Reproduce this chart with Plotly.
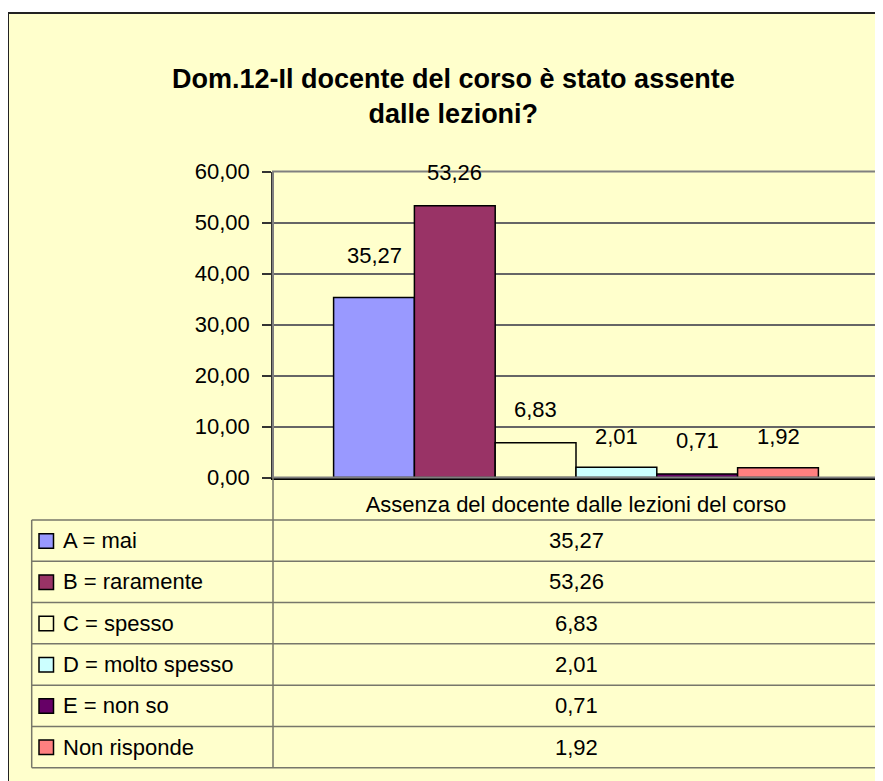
import plotly.graph_objects as go

# ---- data ----
categories = ["Assenza del docente dalle lezioni del corso"]
series_names = ["A = mai", "B = raramente", "C = spesso", "D = molto spesso", "E = non so", "Non risponde"]
values = [35.27, 53.26, 6.83, 2.01, 0.71, 1.92]
y_ticks = [0, 10, 20, 30, 40, 50, 60]
title_text = "Dom.12-Il docente del corso è stato assente<br>dalle lezioni?"

# ---- style ----
colors = ["#9999FF", "#993366", "#FFFFCC", "#CCFFFF", "#660066", "#FF8080"]
label_shift = [42, 33, 33, 31, 33, 31]
W, H = 883, 781
OFF = 8  # page body margin
FONT = "Arial, Liberation Sans, sans-serif"
FS = 22

def px(x):
    return (x - OFF) / W

def py(y):
    return 1 - (y - OFF) / H

def fmt(v):
    return f"{v:.2f}".replace(".", ",")

plot_l, plot_r, plot_t, plot_b = 273, 879, 171.5, 477.5

fig = go.Figure()
n = len(series_names)
for name, val, col in zip(series_names, values, colors):
    fig.add_trace(go.Bar(
        x=categories, y=[val], name=name,
        marker=dict(color=col, line=dict(color="black", width=1.5)),
        showlegend=False, hoverinfo="skip",
    ))

shapes = []
annotations = []

# outer box
shapes.append(dict(type="rect", xref="paper", yref="paper", layer="below",
                   x0=px(8), x1=px(900), y0=py(13), y1=py(810),
                   fillcolor="#FFFFCC", line=dict(color="#222222", width=2)))
# plot border
shapes.append(dict(type="rect", xref="paper", yref="paper",
                   x0=px(plot_l), x1=px(plot_r), y0=py(plot_b), y1=py(plot_t),
                   line=dict(color="#808080", width=2)))

# data labels above bars
gw = 0.8
bw = gw / n
for i, (v, s) in enumerate(zip(values, label_shift)):
    annotations.append(dict(x=-gw / 2 + bw / 2 + i * bw, y=v, xref="x", yref="y",
                            text=fmt(v), showarrow=False, yanchor="middle", yshift=s,
                            font=dict(family=FONT, size=FS, color="black")))

# data table
tbl_l, tbl_r = 31.7, 879
row_top, row_bot = 520, 767.7
rh = (row_bot - row_top) / n
line_col = "#77776A"
for k in range(n + 1):
    yy = row_top + k * rh
    shapes.append(dict(type="line", xref="paper", yref="paper",
                       x0=px(tbl_l), x1=px(tbl_r), y0=py(yy), y1=py(yy),
                       line=dict(color=line_col, width=1.5)))
shapes.append(dict(type="line", xref="paper", yref="paper",
                   x0=px(tbl_l), x1=px(tbl_l), y0=py(row_top), y1=py(row_bot),
                   line=dict(color=line_col, width=1.5)))
for xx in (plot_l, tbl_r):
    shapes.append(dict(type="line", xref="paper", yref="paper",
                       x0=px(xx), x1=px(xx), y0=py(plot_b), y1=py(row_bot),
                       line=dict(color=line_col, width=1.5)))

for k, (name, val, col) in enumerate(zip(series_names, values, colors)):
    cy = row_top + (k + 0.5) * rh
    shapes.append(dict(type="rect", xref="paper", yref="paper",
                       x0=px(39), x1=px(53.5), y0=py(cy + 7.5), y1=py(cy - 7),
                       fillcolor=col, line=dict(color="black", width=1.5)))
    annotations.append(dict(x=px(61), y=py(cy), xref="paper", yref="paper",
                            text=name, showarrow=False, xanchor="left", yanchor="middle",
                            font=dict(family=FONT, size=FS, color="black")))
    annotations.append(dict(x=px((plot_l + plot_r) / 2), y=py(cy), xref="paper", yref="paper",
                            text=fmt(val), showarrow=False, xanchor="center", yanchor="middle",
                            font=dict(family=FONT, size=FS, color="black")))

# title
annotations.append(dict(x=px(453), y=py(97), xref="paper", yref="paper",
                        text=f"<b>{title_text}</b>", showarrow=False,
                        xanchor="center", yanchor="middle",
                        font=dict(family=FONT, size=27, color="black")))

fig.update_layout(
    width=W, height=H,
    margin=dict(l=0, r=0, t=0, b=0, autoexpand=False),
    paper_bgcolor="white",
    plot_bgcolor="#C0C0C0",
    barmode="group", bargap=0.2, bargroupgap=0,
    separators=",.",
    shapes=shapes,
    annotations=annotations,
    xaxis=dict(domain=[px(plot_l), px(plot_r)], showgrid=False, ticks="",
               automargin=False,
               showline=True, linecolor="black", linewidth=1.5,
               ticklabelstandoff=6,
               tickfont=dict(family=FONT, size=FS, color="black")),
    yaxis=dict(domain=[py(plot_b), py(plot_t)], range=[0, 60],
               automargin=False,
               tickvals=y_ticks, tickformat=".2f",
               showgrid=True, gridcolor="#666666", gridwidth=1.5,
               zeroline=False,
               showline=True, linecolor="#333333", linewidth=1.5,
               ticks="outside", ticklen=9, tickcolor="#333333", tickwidth=1.5,
               ticklabelstandoff=8,
               tickfont=dict(family=FONT, size=FS, color="black")),
    font=dict(family=FONT, color="black"),
)

fig.write_html("out.html")
